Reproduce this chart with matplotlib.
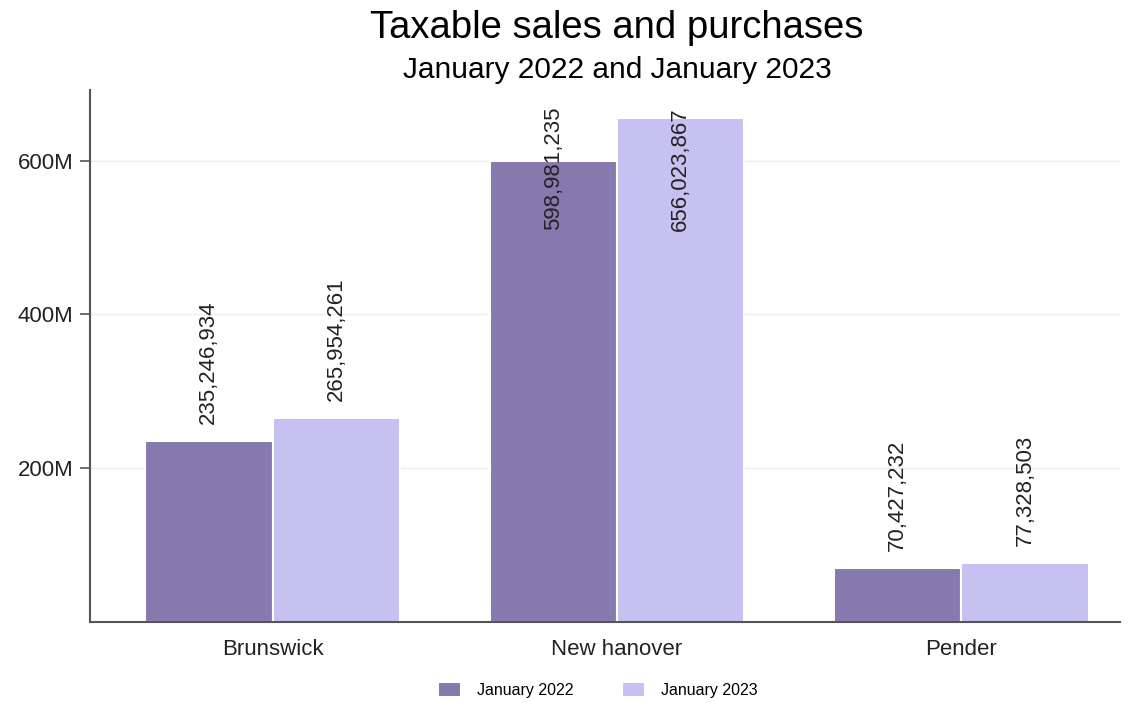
import numpy as np
import matplotlib.pyplot as plt
from matplotlib.ticker import FuncFormatter

plt.rcParams['font.family'] = ['Liberation Sans', 'DejaVu Sans']

# Datos
counties = ['Brunswick', 'New hanover', 'Pender']
series_names = ['January 2022', 'January 2023']
sales_2022 = [235246934, 598981235, 70427232]
sales_2023 = [265954261, 656023867, 77328503]
colors = ['#8579AD', '#C6C1F0']

fig = plt.figure(figsize=(11.3, 7.03), dpi=100)
ax = fig.add_axes([0.0796, 0.1152, 0.9114, 0.7568])

x = np.arange(len(counties))
width = 0.37
ymax = 692e6
label_cap = 670e6      # techo para las etiquetas que no caben
label_len = 158e6      # largo aprox. de la etiqueta en unidades de datos
label_gap = 22e6

for i, (vals, name, color) in enumerate(zip([sales_2022, sales_2023], series_names, colors)):
    pos = x + (i - 0.5) * width
    ax.bar(pos, vals, width, color=color, edgecolor='white', linewidth=1.5, label=name, zorder=2)
    for px, v in zip(pos, vals):
        label = f"{v:,}"
        if v + label_gap + label_len > label_cap:
            # se empuja hacia abajo, dentro de la barra
            ax.text(px, label_cap, label, rotation=90, ha='center', va='top',
                    fontsize=16, color='#222222', zorder=3)
        else:
            ax.text(px, v + label_gap, label, rotation=90, ha='center', va='bottom',
                    fontsize=16, color='#222222', zorder=3)

ax.set_xlim(-0.53, 2.46)
ax.set_ylim(0, ymax)
ax.set_xticks(x)
ax.set_xticklabels(counties, fontsize=16, color='#222222')
ax.tick_params(axis='x', length=0, pad=12)
ax.set_yticks([200e6, 400e6, 600e6])
ax.yaxis.set_major_formatter(FuncFormatter(lambda v, p: f"{int(v / 1e6)}M"))
ax.tick_params(axis='y', labelsize=16, labelcolor='#222222', length=7, color='#555555',
               width=1.2, pad=5)
ax.grid(axis='y', color='#EEEEEE', linewidth=1, zorder=0)

for side in ['top', 'right']:
    ax.spines[side].set_visible(False)
for side in ['left', 'bottom']:
    ax.spines[side].set_color('#555555')
    ax.spines[side].set_linewidth(1.5)

fig.text(0.546, 0.960, 'Taxable sales and purchases', ha='center', va='center', fontsize=27.5)
fig.text(0.546, 0.900, 'January 2022 and January 2023', ha='center', va='center', fontsize=21.5)

fig.legend(loc='center', bbox_to_anchor=(0.529, 0.0185), ncol=2, frameon=False,
           fontsize=11.5, handlelength=1.45, handleheight=1.1, handletextpad=1.0,
           columnspacing=3.0)

plt.savefig('out.png', dpi=100, facecolor='white')
plt.close()
